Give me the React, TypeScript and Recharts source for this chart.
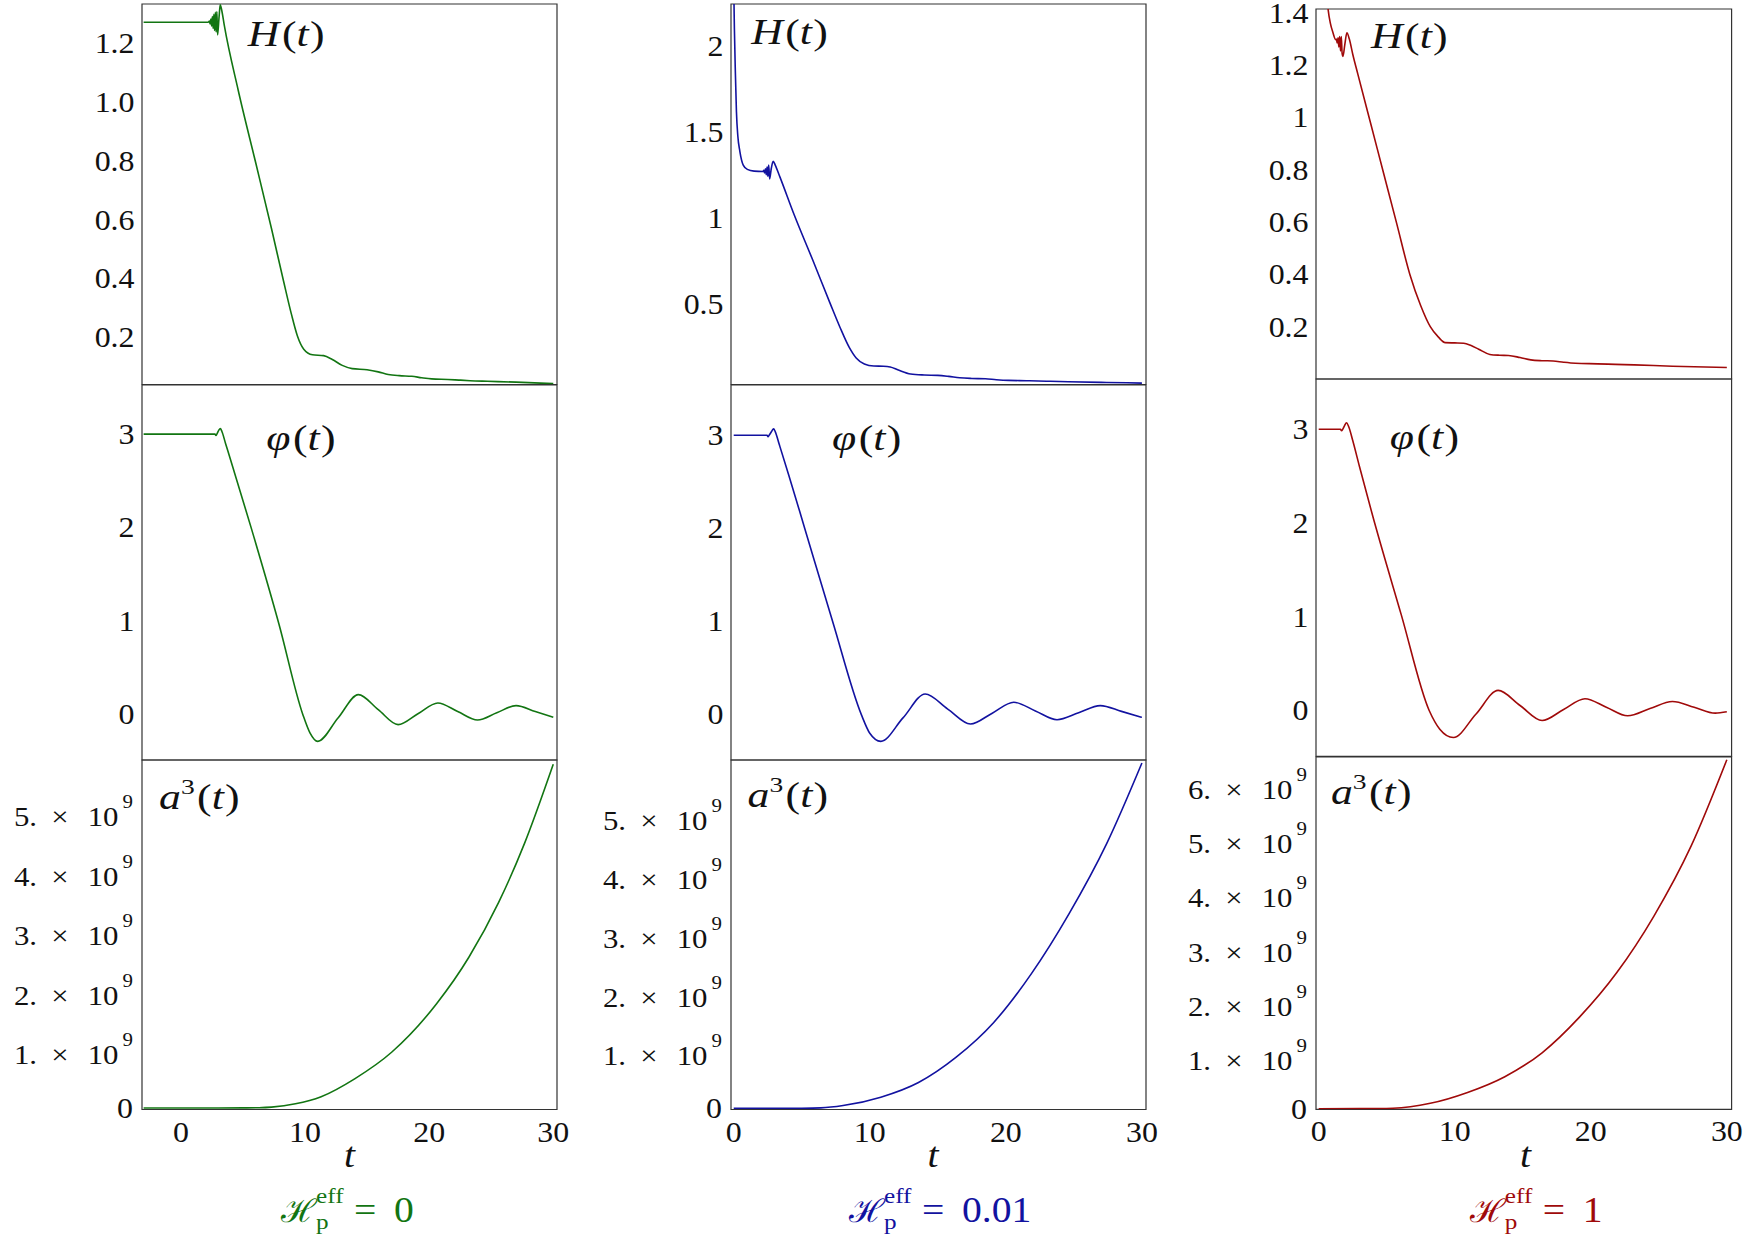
import React from 'react';
import { LineChart, Line, XAxis, YAxis, ReferenceArea } from 'recharts';

// ---- H_p^eff = 0 ----
const tHA = [-3, 2.2, 2.3, 2.36, 2.42, 2.48, 2.54, 2.6, 2.66, 2.72, 2.78, 2.84, 2.9, 2.96, 3.08, 3.17, 3.3, 3.5, 4.62, 6.05, 7.3, 8.28, 8.9, 9.39, 9.9, 10.6, 11.5, 12.2, 13.0, 13.8, 15.0, 15.9, 16.7, 17.6, 18.6, 19.4, 20.2, 21.5, 22.4, 23.3, 24.7, 27, 30];
const HA = [1.271, 1.271, 1.275, 1.265, 1.282, 1.258, 1.29, 1.25, 1.298, 1.243, 1.305, 1.238, 1.307, 1.228, 1.29, 1.33, 1.31, 1.26, 1.04, 0.79, 0.57, 0.39, 0.28, 0.205, 0.16, 0.141, 0.138, 0.125, 0.105, 0.094, 0.09, 0.083, 0.074, 0.07, 0.068, 0.063, 0.059, 0.057, 0.055, 0.053, 0.051, 0.048, 0.043];
const tPhiA = [-3, 2.75, 2.83, 2.9, 3.05, 3.18, 3.3, 3.6, 4.2, 5.66, 7.9, 9.83, 10.4, 11.02, 12.66, 14.3, 15.9, 17.5, 19.1, 20.7, 22.3, 23.9, 25.45, 27.0, 28.55, 30];
const phiA = [3.0, 3.0, 2.985, 3.0, 3.04, 3.06, 3.03, 2.9, 2.64, 2.0, 0.97, 0.0, -0.195, -0.286, -0.036, 0.214, 0.053, -0.107, 0.009, 0.125, 0.034, -0.057, 0.02, 0.096, 0.033, -0.029];
const tA3A = [-3, 0, 3, 5, 6.3, 7.3, 9.23, 11.3, 14.0, 17.0, 20.6, 23.2, 25.6, 27.7, 30];
const a3A = [0, 0, 0, 0.002e9, 0.005e9, 0.015e9, 0.07e9, 0.19e9, 0.49e9, 0.94e9, 1.75e9, 2.53e9, 3.45e9, 4.45e9, 5.77e9];

// ---- H_p^eff = 0.01 ----
const tHB = [0, 0.05, 0.12, 0.2, 0.3, 0.45, 0.7, 1.0, 1.5, 2.15, 2.21, 2.27, 2.33, 2.39, 2.45, 2.51, 2.57, 2.64, 2.76, 2.9, 3.05, 3.4, 4.45, 5.8, 7.07, 7.8, 8.5, 9.0, 9.6, 10.3, 11.0, 11.5, 12.1, 13.0, 14.0, 15.0, 15.8, 16.6, 17.5, 18.5, 19.3, 20.2, 21.5, 23, 24.6, 27.4, 30];
const HB = [2.35, 2.1, 1.85, 1.62, 1.48, 1.39, 1.31, 1.285, 1.275, 1.273, 1.28, 1.264, 1.288, 1.254, 1.298, 1.245, 1.31, 1.23, 1.29, 1.332, 1.31, 1.24, 1.02, 0.76, 0.51, 0.37, 0.25, 0.19, 0.155, 0.143, 0.142, 0.138, 0.12, 0.097, 0.091, 0.089, 0.083, 0.075, 0.071, 0.069, 0.064, 0.06, 0.058, 0.055, 0.052, 0.048, 0.044];
const tPhiB = [0, 2.45, 2.52, 2.6, 2.78, 2.93, 3.05, 3.35, 4.03, 5.22, 7.27, 9.38, 10.0, 10.81, 12.44, 14.07, 15.73, 17.4, 19.0, 20.58, 22.17, 23.76, 25.35, 26.94, 28.5, 30];
const phiB = [3.0, 3.0, 2.985, 3.0, 3.04, 3.07, 3.04, 2.9, 2.58, 2.0, 1.0, 0.0, -0.2, -0.287, -0.035, 0.222, 0.06, -0.1, 0.016, 0.133, 0.04, -0.054, 0.02, 0.097, 0.035, -0.029];
const tA3B = [0, 3, 5, 6.4, 8.04, 10.81, 13.58, 16.35, 19.11, 21.88, 24.65, 27.41, 30];
const a3B = [0, 0, 0.002e9, 0.008e9, 0.047e9, 0.19e9, 0.44e9, 0.87e9, 1.46e9, 2.29e9, 3.31e9, 4.5e9, 5.87e9];

// ---- H_p^eff = 1 ----
const tHC = [0, 0.3, 0.55, 0.7, 0.85, 1.05, 1.24, 1.3, 1.36, 1.42, 1.48, 1.54, 1.6, 1.66, 1.72, 1.78, 1.92, 2.07, 2.25, 2.51, 2.88, 3.82, 4.77, 5.73, 6.7, 7.5, 8.2, 8.8, 9.3, 10.0, 10.66, 11.2, 11.76, 12.58, 13.3, 13.95, 14.8, 15.59, 16.4, 17.23, 18.0, 18.87, 20.5, 21.8, 23.2, 26.0, 30];
const HC = [2.0, 1.7, 1.5, 1.41, 1.362, 1.324, 1.298, 1.3, 1.285, 1.305, 1.27, 1.31, 1.255, 1.31, 1.245, 1.234, 1.28, 1.324, 1.3, 1.24, 1.165, 0.977, 0.787, 0.595, 0.4, 0.28, 0.2, 0.16, 0.139, 0.138, 0.137, 0.128, 0.114, 0.094, 0.091, 0.09, 0.082, 0.073, 0.07, 0.069, 0.064, 0.06, 0.058, 0.056, 0.054, 0.049, 0.044];
const tPhiC = [0, 1.6, 1.68, 1.76, 1.9, 2.04, 2.2, 2.5, 3.0, 3.96, 6.07, 8.12, 8.9, 9.9, 11.55, 13.19, 14.8, 16.42, 18.0, 19.57, 21.14, 22.71, 24.35, 26.0, 27.6, 29.15, 30];
const phiC = [3.0, 3.0, 2.985, 3.0, 3.04, 3.07, 3.03, 2.88, 2.6, 2.08, 1.02, 0.0, -0.2, -0.289, -0.04, 0.214, 0.053, -0.107, 0.01, 0.125, 0.035, -0.057, 0.02, 0.096, 0.035, -0.028, -0.014];
const tA3C = [0, 3, 5.46, 8.2, 10.94, 13.68, 16.42, 19.15, 21.9, 24.63, 27.37, 30];
const a3C = [0, 0.002e9, 0.01e9, 0.1e9, 0.3e9, 0.59e9, 1.03e9, 1.68e9, 2.5e9, 3.54e9, 4.83e9, 6.42e9];

// ---- ticks ----
const tTicks = [0, 10, 20, 30];
const hTicksA = [0.2, 0.4, 0.6, 0.8, 1.0, 1.2];
const hLabelsA = ['0.2', '0.4', '0.6', '0.8', '1.0', '1.2'];
const hTicksB = [0.5, 1, 1.5, 2];
const hLabelsB = ['0.5', '1', '1.5', '2'];
const hTicksC = [0.2, 0.4, 0.6, 0.8, 1, 1.2, 1.4];
const hLabelsC = ['0.2', '0.4', '0.6', '0.8', '1', '1.2', '1.4'];
const phiTicks = [0, 1, 2, 3];
const phiLabels = ['0', '1', '2', '3'];
const a3TicksAB = [0, 1e9, 2e9, 3e9, 4e9, 5e9];
const a3TicksC = [0, 1e9, 2e9, 3e9, 4e9, 5e9, 6e9];

const GREEN = '#127512';
const BLUE = '#1212a0';
const RED = '#a00a0a';
const FRAME = '#333';
const SERIF = '"Liberation Serif", "Times New Roman", "DejaVu Serif", serif';

// text stretched horizontally, anchored at (x, y)
function Txt({ x, y, size, anchor = 'start', italic = false, fill = '#111', sx = 1.1, children }: any) {
  return (
    <text
      transform={`translate(${x},${y}) scale(${sx},1)`}
      fontSize={size}
      textAnchor={anchor}
      fontStyle={italic ? 'italic' : 'normal'}
      fill={fill}
      fontFamily={SERIF}
    >
      {children}
    </text>
  );
}

function PlainYTick({ x, y, payload, values, labels }: any) {
  const i = values.indexOf(payload.value);
  return <Txt x={x - 7.5} y={y + 9.8} size={29} anchor="end">{labels[i]}</Txt>;
}

function SciYTick({ x, y, payload }: any) {
  const v = payload.value;
  const r = x - 9;
  if (v === 0) return <Txt x={r} y={y + 9.8} size={29} anchor="end">0</Txt>;
  const n = Math.round(v / 1e9);
  return (
    <g>
      <Txt x={r} y={y - 2} size={19} anchor="end">9</Txt>
      <Txt x={r - 14.5} y={y + 16} size={28} anchor="end">10</Txt>
      <Txt x={r - 73} y={y + 16} size={28} anchor="middle">×</Txt>
      <Txt x={r - 96} y={y + 16} size={28} anchor="end">{n + '.'}</Txt>
    </g>
  );
}

function XTick({ x, y, payload }: any) {
  return <Txt x={x} y={y + 32} size={29} anchor="middle">{payload.value}</Txt>;
}

const LW = 140;
const TM = 20;
const RM = 30;

function Panel({ left, right, top, bottom, xDomain, yDomain, t, v, color, yTicks, yTick, bottomRow }: any) {
  const w = right - left;
  const h = bottom - top;
  const bh = bottomRow ? 50 : 2;
  const data = t.map((tt: number, i: number) => ({ t: tt, v: v[i] }));
  return (
    <div style={{ position: 'absolute', left: left - LW, top: top - TM }}>
      <LineChart
        width={LW + w + RM}
        height={TM + h + bh}
        data={data}
        margin={{ top: TM, right: RM, bottom: bottomRow ? 0 : 2, left: 0 }}
      >
        <XAxis
          type="number"
          dataKey="t"
          domain={xDomain}
          allowDataOverflow
          ticks={tTicks}
          interval={0}
          tick={<XTick />}
          tickLine={false}
          axisLine={false}
          tickSize={0}
          tickMargin={0}
          height={bottomRow ? bh : 0}
          hide={!bottomRow}
        />
        <YAxis
          type="number"
          domain={yDomain}
          allowDataOverflow
          ticks={yTicks}
          interval={0}
          tick={yTick}
          tickLine={false}
          axisLine={false}
          tickSize={0}
          tickMargin={0}
          width={LW}
        />
        <Line
          type="monotone"
          dataKey="v"
          stroke={color}
          strokeWidth={1.6}
          dot={false}
          isAnimationActive={false}
        />
        <ReferenceArea
          x1={xDomain[0]}
          x2={xDomain[1]}
          y1={yDomain[0]}
          y2={yDomain[1]}
          fill="none"
          stroke={FRAME}
          strokeWidth={1.2}
          ifOverflow="visible"
        />
      </LineChart>
    </div>
  );
}

function FnLabel({ x, y, name, cube = false }: any) {
  return (
    <Txt x={x} y={y} size={35} sx={1.25}>
      <tspan fontStyle="italic">{name}</tspan>
      {cube ? <tspan fontSize={22} dy={-15}>3</tspan> : null}
      <tspan dx={2} dy={cube ? 15 : 0}>(</tspan>
      <tspan fontStyle="italic">t</tspan>
      <tspan dx={1}>)</tspan>
    </Txt>
  );
}

function Title({ left, value, color }: any) {
  return (
    <g>
      <Txt x={left} y={1222} size={32} sx={1.05} fill={color}>ℋ</Txt>
      <Txt x={left + 35} y={1203} size={21} sx={1.2} fill={color}>eff</Txt>
      <Txt x={left + 35} y={1229} size={21} sx={1.2} fill={color}>p</Txt>
      <Txt x={left + 73} y={1222} size={36} sx={1.1} fill={color}>=</Txt>
      <Txt x={left + 113} y={1222} size={36} sx={1.1} fill={color}>{value}</Txt>
    </g>
  );
}

const COLS = [
  {
    left: 142.4, right: 557.4, rows: [4, 384.5, 759.5, 1109], xDomain: [-3.13, 30.3], color: GREEN,
    H: { t: tHA, v: HA, dom: [0.04, 1.333], ticks: hTicksA, labels: hLabelsA },
    phi: { t: tPhiA, v: phiA, dom: [-0.485, 3.525] },
    a3: { t: tA3A, v: a3A, dom: [-0.025e9, 5.84e9], ticks: a3TicksAB },
  },
  {
    left: 731.3, right: 1146.3, rows: [4, 384.5, 759.5, 1109], xDomain: [-0.2, 30.3], color: BLUE,
    H: { t: tHB, v: HB, dom: [0.036, 2.245], ticks: hTicksB, labels: hLabelsB },
    phi: { t: tPhiB, v: phiB, dom: [-0.487, 3.54] },
    a3: { t: tA3B, v: a3B, dom: [-0.02e9, 5.92e9], ticks: a3TicksAB },
  },
  {
    left: 1316.4, right: 1732, rows: [9.3, 379.3, 756.7, 1109], xDomain: [-0.2, 30.35], color: RED,
    H: { t: tHC, v: HC, dom: [0, 1.415], ticks: hTicksC, labels: hLabelsC },
    phi: { t: tPhiC, v: phiC, dom: [-0.49, 3.537] },
    a3: { t: tA3C, v: a3C, dom: [-0.01e9, 6.47e9], ticks: a3TicksC },
  },
];

export default function App() {
  return (
    <div style={{ position: 'absolute', left: 0, top: 0, width: 1754, height: 1241, background: '#fff', overflow: 'hidden' }}>
      {COLS.map((c, i) => (
        <React.Fragment key={i}>
          <Panel
            left={c.left} right={c.right} top={c.rows[0]} bottom={c.rows[1]}
            xDomain={c.xDomain} yDomain={c.H.dom} t={c.H.t} v={c.H.v} color={c.color}
            yTicks={c.H.ticks} yTick={<PlainYTick values={c.H.ticks} labels={c.H.labels} />}
          />
          <Panel
            left={c.left} right={c.right} top={c.rows[1]} bottom={c.rows[2]}
            xDomain={c.xDomain} yDomain={c.phi.dom} t={c.phi.t} v={c.phi.v} color={c.color}
            yTicks={phiTicks} yTick={<PlainYTick values={phiTicks} labels={phiLabels} />}
          />
          <Panel
            left={c.left} right={c.right} top={c.rows[2]} bottom={c.rows[3]}
            xDomain={c.xDomain} yDomain={c.a3.dom} t={c.a3.t} v={c.a3.v} color={c.color}
            yTicks={c.a3.ticks} yTick={<SciYTick />} bottomRow
          />
        </React.Fragment>
      ))}
      <svg width={1754} height={1241} style={{ position: 'absolute', left: 0, top: 0, pointerEvents: 'none' }}>
        <FnLabel x={247.8} y={46} name="H" />
        <FnLabel x={751.2} y={44} name="H" />
        <FnLabel x={1371} y={48} name="H" />
        <FnLabel x={266.3} y={450} name="φ" />
        <FnLabel x={832.1} y={450} name="φ" />
        <FnLabel x={1389.7} y={449} name="φ" />
        <FnLabel x={159} y={809} name="a" cube />
        <FnLabel x={747.5} y={807} name="a" cube />
        <FnLabel x={1330.9} y={804} name="a" cube />
        <Txt x={349.5} y={1167} size={36} italic anchor="middle">t</Txt>
        <Txt x={933} y={1167} size={36} italic anchor="middle">t</Txt>
        <Txt x={1525.6} y={1167} size={36} italic anchor="middle">t</Txt>
        <Title left={281.1} value="0" color={GREEN} />
        <Title left={849} value="0.01" color={BLUE} />
        <Title left={1469.8} value="1" color={RED} />
      </svg>
    </div>
  );
}
